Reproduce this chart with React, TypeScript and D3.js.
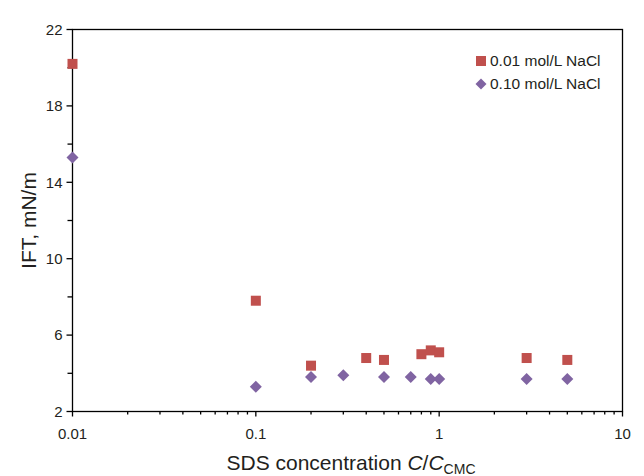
import React from "react";
import * as d3 from "d3";

const seriesNames = ["0.01 mol/L NaCl", "0.10 mol/L NaCl"];
const colors = ["#C0504D", "#8064A2"];
const xLow = [0.01, 0.1, 0.2, 0.4, 0.5, 0.8, 0.9, 1.0, 3.0, 5.0];
const yLow = [20.2, 7.8, 4.4, 4.8, 4.7, 5.0, 5.2, 5.1, 4.8, 4.7];
const xHigh = [0.01, 0.1, 0.2, 0.3, 0.5, 0.7, 0.9, 1.0, 3.0, 5.0];
const yHigh = [15.3, 3.3, 3.8, 3.9, 3.8, 3.8, 3.7, 3.7, 3.7, 3.7];
const xTickLabels = [0.01, 0.1, 1, 10];
const yTickLabels = [2, 6, 10, 14, 18, 22];
const yMinorTicks = [4, 8, 12, 16, 20];

const W = 644;
const H = 476;
const L = 72.5;
const R = 622.5;
const T = 29.5;
const B = 411.5;

export default function App() {
  const x = d3.scaleLog().domain([0.01, 10]).range([L, R]);
  const y = d3.scaleLinear().domain([2, 22]).range([B, T]);
  const font = "'Liberation Sans', Arial, sans-serif";
  const xMinor: number[] = [];
  [0.01, 0.1, 1].forEach((d) => {
    for (let k = 2; k <= 9; k++) xMinor.push(d * k);
  });
  const sq = 10;
  const dm = 6;
  const diamond = (cx: number, cy: number) =>
    `M${cx},${cy - dm}L${cx + dm},${cy}L${cx},${cy + dm}L${cx - dm},${cy}Z`;

  return (
    <svg
      width={W}
      height={H}
      style={{ position: "absolute", left: 0, top: 0, background: "#fff" }}
      fontFamily={font}
    >
      <rect x={0} y={0} width={W} height={H} fill="#fff" />
      {/* frame */}
      <rect x={L} y={T} width={R - L} height={B - T} fill="none" stroke="#000" strokeWidth={1.3} />
      {/* y ticks */}
      {yTickLabels.map((v) => (
        <g key={"yt" + v}>
          <line x1={L - 6} x2={L} y1={y(v)} y2={y(v)} stroke="#000" strokeWidth={1.3} />
          <text x={L - 10} y={y(v)} dy="0.35em" textAnchor="end" fontSize={15} fill="#231f20">
            {v}
          </text>
        </g>
      ))}
      {yMinorTicks.map((v) => (
        <line key={"ym" + v} x1={L - 5} x2={L} y1={y(v)} y2={y(v)} stroke="#000" strokeWidth={1.3} />
      ))}
      {/* x ticks */}
      {xTickLabels.map((v) => (
        <g key={"xt" + v}>
          <line x1={x(v)} x2={x(v)} y1={B} y2={B + 5} stroke="#000" strokeWidth={1.3} />
          <text x={x(v)} y={B + 27} textAnchor="middle" fontSize={15} fill="#231f20">
            {v}
          </text>
        </g>
      ))}
      {xMinor.map((v, i) => (
        <line key={"xm" + i} x1={x(v)} x2={x(v)} y1={B} y2={B + 3} stroke="#000" strokeWidth={1.3} />
      ))}
      {/* axis titles */}
      <text
        transform={`translate(36,${(T + B) / 2}) rotate(-90)`}
        textAnchor="middle"
        fontSize={21}
        fill="#231f20"
      >
        IFT, mN/m
      </text>
      <text x={351} y={470} textAnchor="middle" fontSize={21} fill="#231f20">
        SDS concentration <tspan fontStyle="italic">C</tspan>/<tspan fontStyle="italic">C</tspan>
        <tspan fontSize={14} dy={4}>CMC</tspan>
      </text>
      {/* data */}
      {xLow.map((v, i) => (
        <rect
          key={"s" + i}
          x={x(v) - sq / 2}
          y={y(yLow[i]) - sq / 2}
          width={sq}
          height={sq}
          fill={colors[0]}
        />
      ))}
      {xHigh.map((v, i) => (
        <path key={"d" + i} d={diamond(x(v), y(yHigh[i]))} fill={colors[1]} />
      ))}
      {/* legend */}
      <rect x={476} y={56} width={10} height={10} fill={colors[0]} />
      <text x={490} y={61} dy="0.35em" fontSize={15.5} fill="#231f20">
        {seriesNames[0]}
      </text>
      <path d={`M481,78.5L486.5,84L481,89.5L475.5,84Z`} fill={colors[1]} />
      <text x={490} y={84} dy="0.35em" fontSize={15.5} fill="#231f20">
        {seriesNames[1]}
      </text>
    </svg>
  );
}
